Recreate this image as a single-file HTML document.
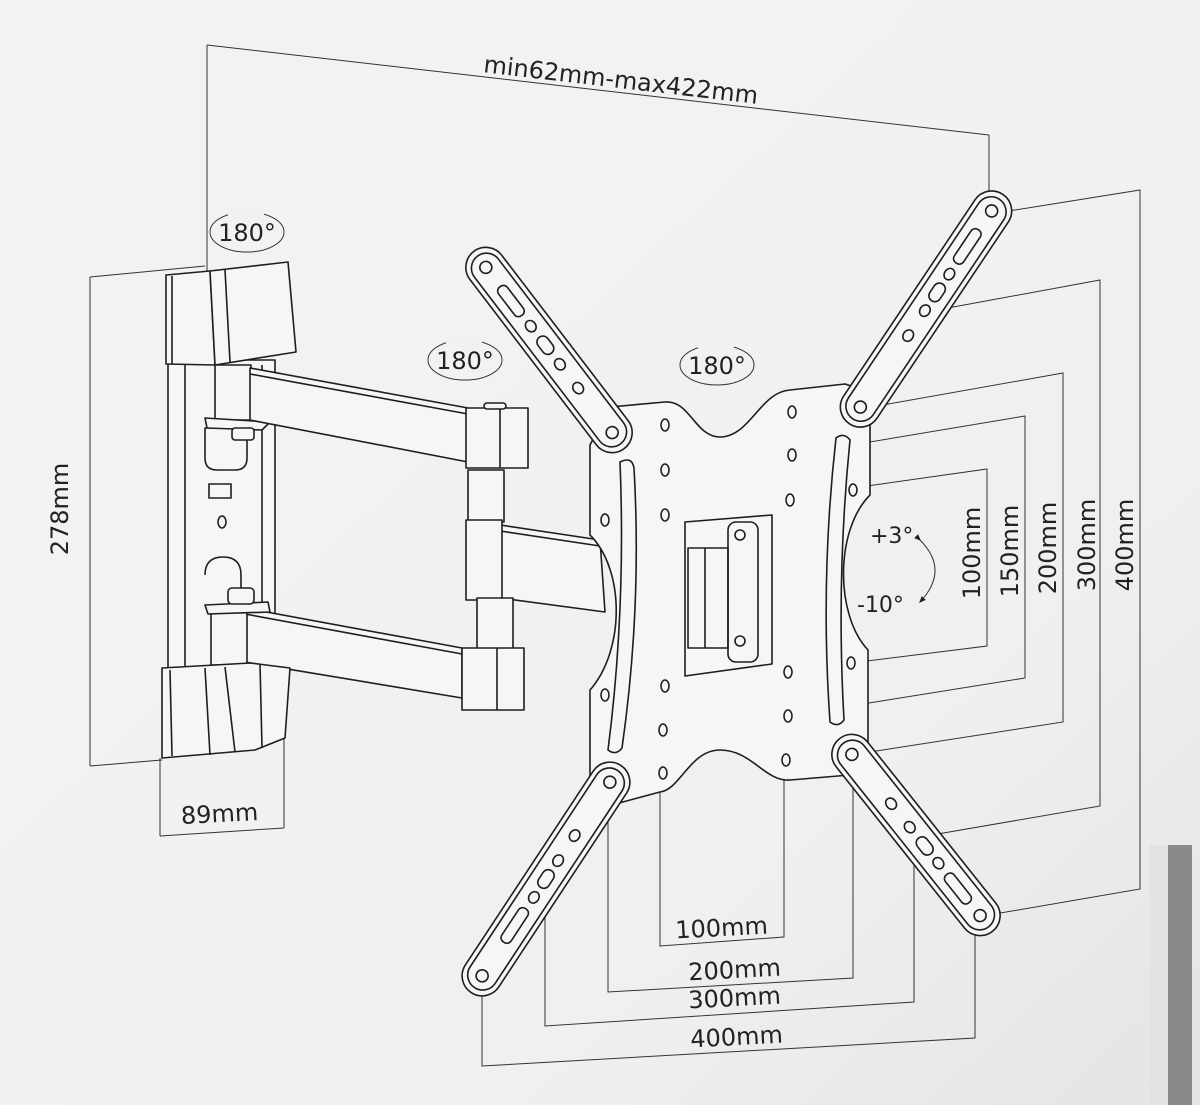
<!DOCTYPE html>
<html><head><meta charset="utf-8"><style>
html,body{margin:0;padding:0;background:#f1f1f1;}
svg{display:block}
text{font-family:"DejaVu Sans","Liberation Sans",sans-serif;fill:#222}
</style></head><body>
<svg width="1200" height="1105" viewBox="0 0 1200 1105" xmlns="http://www.w3.org/2000/svg">
<defs>
<linearGradient id="bg" x1="0" y1="0" x2="1" y2="1">
<stop offset="0" stop-color="#f3f3f3"/><stop offset="0.7" stop-color="#f0f0f0"/><stop offset="1" stop-color="#e4e4e4"/>
</linearGradient>
<marker id="ar" viewBox="0 0 10 10" refX="8" refY="5" markerWidth="7" markerHeight="7" orient="auto"><path d="M0,1 L10,5 L0,9 z" fill="#222"/></marker>
</defs>
<rect width="1200" height="1105" fill="url(#bg)"/>
<rect x="1168" y="845" width="24" height="260" fill="#8a8a8a"/>
<rect x="1150" y="845" width="18" height="260" fill="#e2e2e2"/>

<g fill="none" stroke="#333" stroke-width="1">
<!-- top dimension -->
<line x1="207" y1="45" x2="989" y2="135"/>
<line x1="207" y1="45" x2="207" y2="290"/>
<line x1="989" y1="135" x2="989" y2="205"/>
<!-- 278 -->
<line x1="90" y1="277" x2="205" y2="266"/>
<line x1="90" y1="277" x2="90" y2="766"/>
<line x1="90" y1="766" x2="162" y2="760"/>
<!-- 89 -->
<line x1="160" y1="758" x2="160" y2="836"/>
<line x1="284" y1="680" x2="284" y2="828"/>
<line x1="160" y1="836" x2="284" y2="828"/>
<!-- right dims -->
<polyline points="990,214 1140,190 1140,889 983,916"/>
<polyline points="926,312 1100,280 1100,806 926,836"/>
<polyline points="860,409 1063,373 1063,722 857,754"/>
<polyline points="792,455 1025,416 1025,678 788,716"/>
<polyline points="853,488 987,469 987,646 851,663"/>
<!-- bottom dims -->
<polyline points="660,773 660,946 784,937 784,760"/>
<polyline points="608,782 608,992 853,978 853,756"/>
<polyline points="545,878 545,1026 914,1002 914,835"/>
<polyline points="482,972 482,1066 975,1038 975,917"/>
</g>

<g stroke="#1e1e1e" stroke-width="1.6" fill="#f6f6f6" stroke-linejoin="round">
<!-- wall bracket -->
<rect x="168" y="360" width="107" height="308"/>
<line x1="185" y1="365" x2="185" y2="668"/>
<line x1="262" y1="365" x2="262" y2="668"/>
<path d="M205,428 h42 v30 q0,12 -12,12 h-18 q-12,0 -12,-12z" fill="none"/>
<rect x="209" y="484" width="22" height="14" fill="none"/>
<ellipse cx="222" cy="522" rx="4" ry="6" fill="none"/>
<path d="M205,575 q0,-18 18,-18 q18,0 18,18 v22" fill="none"/>
<polygon points="166,275 210,271 215,365 166,364"/>
<polygon points="210,271 288,262 296,352 215,365"/>
<line x1="225" y1="270" x2="230" y2="362"/>
<line x1="172" y1="276" x2="172" y2="364"/>
<rect x="215" y="365" width="36" height="55"/>
<polygon points="205,418 270,422 262,430 207,428"/>
<rect x="232" y="428" width="22" height="12" rx="3"/>
<polygon points="250,368 468,408 468,462 250,420"/>
<line x1="250" y1="374" x2="468" y2="414"/>
<rect x="468" y="470" width="36" height="52"/>
<rect x="466" y="408" width="62" height="60"/>
<line x1="500" y1="408" x2="500" y2="468"/>
<rect x="484" y="403" width="22" height="6" rx="3"/>
<polygon points="500,525 600,540 605,612 500,598"/>
<line x1="500" y1="531" x2="600" y2="546"/>
<rect x="466" y="520" width="36" height="80"/>
<rect x="477" y="598" width="36" height="52"/>
<polygon points="245,608 462,648 462,698 245,662"/>
<line x1="245" y1="614" x2="462" y2="654"/>
<rect x="211" y="610" width="36" height="55"/>
<polygon points="205,605 268,602 270,612 208,614"/>
<rect x="228" y="588" width="26" height="16" rx="4"/>
<rect x="462" y="648" width="62" height="62"/>
<line x1="497" y1="648" x2="497" y2="710"/>
<polygon points="162,668 250,663 290,668 285,738 255,750 162,758"/>
<line x1="170" y1="670" x2="172" y2="756"/>
<line x1="205" y1="668" x2="210" y2="755"/>
<line x1="225" y1="667" x2="235" y2="752"/>
<line x1="260" y1="664" x2="262" y2="748"/>

<!-- VESA plate -->
<path d="M610,407 L665,402 C690,400 695,437 720,437 C750,437 760,392 790,390 L845,384 L870,392 L870,495 C835,530 835,615 868,650 L868,750 L850,775 L790,780 C765,782 752,750 720,750 C690,750 680,790 660,792 L608,806 L590,790 L590,690 C625,650 625,570 590,535 L590,445 Z"/>
<path d="M620,462 q12,-6 14,6 q8,140 -12,280 q-6,8 -14,2 q18,-140 12,-288z"/>
<path d="M836,438 q8,-6 14,2 q-14,140 -6,280 q-6,8 -14,2 q-10,-142 6,-284z"/>
<polygon points="685,522 772,515 772,664 685,676"/>
<rect x="688" y="548" width="40" height="100" fill="none"/>
<line x1="705" y1="548" x2="705" y2="648"/>
<rect x="728" y="522" width="30" height="140" rx="8" fill="none"/>
<circle cx="740" cy="535" r="5"/><circle cx="740" cy="641" r="5"/>
<g fill="none">
<ellipse cx="605" cy="520" rx="4" ry="6"/><ellipse cx="605" cy="695" rx="4" ry="6"/>
<ellipse cx="665" cy="425" rx="4" ry="6"/><ellipse cx="665" cy="470" rx="4" ry="6"/><ellipse cx="665" cy="515" rx="4" ry="6"/>
<ellipse cx="665" cy="686" rx="4" ry="6"/><ellipse cx="663" cy="730" rx="4" ry="6"/><ellipse cx="663" cy="773" rx="4" ry="6"/>
<ellipse cx="792" cy="412" rx="4" ry="6"/><ellipse cx="792" cy="455" rx="4" ry="6"/><ellipse cx="790" cy="500" rx="4" ry="6"/>
<ellipse cx="788" cy="672" rx="4" ry="6"/><ellipse cx="788" cy="716" rx="4" ry="6"/><ellipse cx="786" cy="760" rx="4" ry="6"/>
<ellipse cx="853" cy="490" rx="4" ry="6"/><ellipse cx="851" cy="663" rx="4" ry="6"/>
</g>

<!-- arms -->
<g transform="translate(549,350) rotate(52.6)">
<rect x="-124" y="-20" width="248" height="40" rx="20"/>
<rect x="-118" y="-15" width="236" height="30" rx="15" fill="none"/>
<circle cx="-104" cy="0" r="6" fill="none"/><rect x="-80" y="-5" width="36" height="11" rx="5" fill="none"/>
<ellipse cx="-30" cy="0" rx="6" ry="5" fill="none"/><rect x="-16" y="-6" width="20" height="12" rx="6" fill="none"/>
<ellipse cx="18" cy="0" rx="6" ry="5" fill="none"/><ellipse cx="48" cy="0" rx="6" ry="5" fill="none"/>
<circle cx="104" cy="0" r="6" fill="none"/>
</g>
<g transform="translate(926,309) rotate(123.8)">
<rect x="-138" y="-20" width="276" height="40" rx="20"/>
<rect x="-132" y="-15" width="264" height="30" rx="15" fill="none"/>
<circle cx="-118" cy="0" r="6" fill="none"/><rect x="-95" y="-5" width="40" height="11" rx="5" fill="none"/>
<ellipse cx="-42" cy="0" rx="6" ry="5" fill="none"/><rect x="-30" y="-6" width="20" height="12" rx="6" fill="none"/>
<ellipse cx="2" cy="0" rx="6" ry="5" fill="none"/><ellipse cx="32" cy="0" rx="6" ry="5" fill="none"/>
<circle cx="118" cy="0" r="6" fill="none"/>
</g>
<g transform="translate(546,879) rotate(123.4)">
<rect x="-136" y="-20" width="272" height="40" rx="20"/>
<rect x="-130" y="-15" width="260" height="30" rx="15" fill="none"/>
<circle cx="-116" cy="0" r="6" fill="none"/>
<ellipse cx="-52" cy="0" rx="6" ry="5" fill="none"/><ellipse cx="-22" cy="0" rx="6" ry="5" fill="none"/>
<rect x="-10" y="-6" width="20" height="12" rx="6" fill="none"/><ellipse cx="22" cy="0" rx="6" ry="5" fill="none"/>
<rect x="36" y="-5" width="40" height="11" rx="5" fill="none"/>
<circle cx="116" cy="0" r="6" fill="none"/>
</g>
<g transform="translate(916,835) rotate(51.5)">
<rect x="-123" y="-20" width="246" height="40" rx="20"/>
<rect x="-117" y="-15" width="234" height="30" rx="15" fill="none"/>
<circle cx="-103" cy="0" r="6" fill="none"/>
<ellipse cx="-40" cy="0" rx="6" ry="5" fill="none"/><ellipse cx="-10" cy="0" rx="6" ry="5" fill="none"/>
<rect x="4" y="-6" width="20" height="12" rx="6" fill="none"/><ellipse cx="36" cy="0" rx="6" ry="5" fill="none"/>
<rect x="50" y="-5" width="36" height="11" rx="5" fill="none"/>
<circle cx="103" cy="0" r="6" fill="none"/>
</g>
</g>

<!-- rotation badges -->
<g fill="none" stroke="#333" stroke-width="1">
<ellipse cx="247" cy="232" rx="37" ry="20"/>
<ellipse cx="465" cy="360" rx="37" ry="20"/>
<ellipse cx="717" cy="365" rx="37" ry="20"/>
<path d="M920,540 q30,30 0,62" marker-start="url(#ar)" marker-end="url(#ar)"/>
</g>
<g fill="#f1f1f1">
<rect x="228" y="208" width="36" height="12"/>
<rect x="446" y="336" width="36" height="12"/>
<rect x="698" y="341" width="36" height="12"/>
</g>
<g font-size="24">
<text x="247" y="241" text-anchor="middle">180°</text>
<text x="465" y="369" text-anchor="middle">180°</text>
<text x="717" y="374" text-anchor="middle">180°</text>
<text x="870" y="543" font-size="22">+3°</text>
<text x="857" y="612" font-size="22">-10°</text>
<text x="620" y="88" text-anchor="middle" transform="rotate(6.6 620 88)">min62mm-max422mm</text>
<text x="76" y="517" text-anchor="middle" transform="rotate(-90 68 517)">278mm</text>
<text x="220" y="822" text-anchor="middle" transform="rotate(-3 220 822)">89mm</text>
<text x="722" y="936" text-anchor="middle" transform="rotate(-3 722 936)">100mm</text>
<text x="735" y="978" text-anchor="middle" transform="rotate(-3 735 978)">200mm</text>
<text x="735" y="1006" text-anchor="middle" transform="rotate(-3 735 1006)">300mm</text>
<text x="737" y="1045" text-anchor="middle" transform="rotate(-3 737 1045)">400mm</text>
<text x="972" y="553" text-anchor="middle" transform="rotate(-90 972 553)" dy="8">100mm</text>
<text x="1010" y="551" text-anchor="middle" transform="rotate(-90 1010 551)" dy="8">150mm</text>
<text x="1048" y="548" text-anchor="middle" transform="rotate(-90 1048 548)" dy="8">200mm</text>
<text x="1087" y="545" text-anchor="middle" transform="rotate(-90 1087 545)" dy="8">300mm</text>
<text x="1125" y="545" text-anchor="middle" transform="rotate(-90 1125 545)" dy="8">400mm</text>
</g>
</svg>
</body></html>
